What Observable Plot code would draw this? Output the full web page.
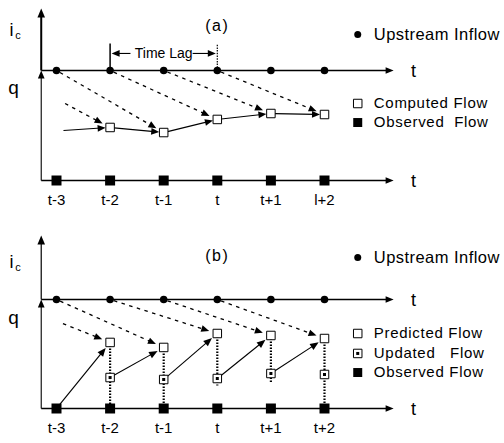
<!DOCTYPE html>
<html><head><meta charset="utf-8">
<script src="https://cdn.jsdelivr.net/npm/d3@7"></script>
<script src="https://cdn.jsdelivr.net/npm/@observablehq/plot@0.6"></script>
<style>
body{margin:0;background:#fff}
#chart svg{display:block;background:#fff}
</style>
</head><body><div id="chart"></div>
<script>
// ---------- data ----------
const times = [-3, -2, -1, 0, 1, 2];                 // t-3 .. t+2
const timeLabelsA = ["t-3", "t-2", "t-1", "t", "t+1", "l+2"];
const timeLabelsB = ["t-3", "t-2", "t-1", "t", "t+1", "t+2"];
const upstreamLevel = 10;   // level of the upstream-inflow (q) line
const observedLevel = 0;    // level of the observed-flow line
const lagSteps = 2;         // time lag in steps
const computedA  = [null, 4.82, 4.36, 5.55, 6.09, 6.00];
const leadInA    = {x: -2.87, y: 4.55};               // start of the incoming computed line
const predictedB = [null, 6.06, 5.60, 6.88, 6.70, 6.42];
const updatedB   = [null, 2.84, 2.66, 2.75, 3.21, 3.12];
const dottedEndB = [null, 0, 0, 2.1, 2.4, 0];
const legendA = [
  {label: "Upstream Inflow", kind: "upstream", y: 13.27, big: true},
  {label: "Computed Flow", kind: "open", y: 7.0},
  {label: "Observed\u00a0 Flow", kind: "observed", y: 5.27}
];
const legendB = [
  {label: "Upstream Inflow", kind: "upstream", y: 13.85, big: true},
  {label: "Predicted Flow", kind: "open", y: 6.88},
  {label: "Updated\u00a0\u00a0 Flow", kind: "updated", y: 5.05},
  {label: "Observed Flow", kind: "observed", y: 3.30}
];

// ---------- layout ----------
const X_DOMAIN = [-3, 2], X_RANGE = [56, 324];
const Y_DOMAIN = [0, 10];
const AXIS_X = -3.285, ARROW_END = 3.29, T_LABEL_X = 3.66;
const LEG_SYM_X = 2.62, LEG_TEXT_X = 2.92;
const FONT = "'Liberation Sans', Arial, Helvetica, sans-serif";

const headSym = {
  draw(ctx, size) {
    const L = Math.sqrt(size), w = L * 0.42;
    ctx.moveTo(0, 0); ctx.lineTo(w, L); ctx.lineTo(-w, L); ctx.closePath();
  }
};

function arrowMarks(list, sx, sy, linkOpts, headLen = 8) {
  const lines = [], heads = [];
  for (const a of list) {
    const x1 = sx(a.x1), y1 = sy(a.y1), x2 = sx(a.x2), y2 = sy(a.y2);
    const dx = x2 - x1, dy = y2 - y1, L = Math.hypot(dx, dy), ux = dx / L, uy = dy / L;
    const f = a.startFrac ?? 0, is = a.insetStart ?? 0, ie = a.inset ?? 0;
    const s = [x1 + dx * f + ux * is, y1 + dy * f + uy * is];
    const tip = [x2 - ux * ie, y2 - uy * ie];
    const le = a.noHead ? tip : [tip[0] - ux * headLen * 0.6, tip[1] - uy * headLen * 0.6];
    if (!a.headOnly) lines.push({x1: sx.invert(s[0]), y1: sy.invert(s[1]), x2: sx.invert(le[0]), y2: sy.invert(le[1])});
    if (!a.noHead) heads.push({x: sx.invert(tip[0]), y: sy.invert(tip[1]), rot: Math.atan2(ux, -uy) * 180 / Math.PI});
  }
  return [
    Plot.link(lines, {x1: "x1", y1: "y1", x2: "x2", y2: "y2", stroke: "black", ...linkOpts}),
    Plot.dot(heads, {x: "x", y: "y", rotate: "rot", symbol: headSym, r: headLen / Math.sqrt(Math.PI), fill: "black", stroke: "none"})
  ];
}

function panel({height, yRange, labels, flows, partial, legend, topY, ticksY, title, titleY, iY, qY, thickTop, extra}) {
  const sx = d3.scaleLinear(X_DOMAIN, X_RANGE), sy = d3.scaleLinear(Y_DOMAIN, yRange);
  const pts = times.map((t, i) => ({t, v: flows[i]})).filter(d => d.v != null);
  const marks = [];
  // axes
  marks.push(...arrowMarks([{x1: AXIS_X, y1: upstreamLevel, x2: AXIS_X, y2: topY}], sx, sy, {strokeWidth: thickTop ? 2 : 1.2}, 9));
  marks.push(...arrowMarks([{x1: AXIS_X, y1: observedLevel, x2: AXIS_X, y2: upstreamLevel}], sx, sy, {strokeWidth: 1.1}, 8));
  marks.push(...arrowMarks([
    {x1: AXIS_X, y1: upstreamLevel, x2: ARROW_END, y2: upstreamLevel},
    {x1: AXIS_X, y1: observedLevel, x2: ARROW_END, y2: observedLevel}
  ], sx, sy, {strokeWidth: 1.3}, 8));
  // dashed lag arrows upstream(t) -> flow(t+lag)
  const dashed = [];
  for (let i = 0; i + lagSteps < times.length; i++) {
    if (flows[i + lagSteps] == null) continue;
    dashed.push({x1: times[i], y1: upstreamLevel, x2: times[i + lagSteps], y2: flows[i + lagSteps], inset: 8.5, insetStart: 4});
  }
  dashed.push({x1: times[1] - lagSteps, y1: upstreamLevel, x2: times[1], y2: flows[1], startFrac: partial, inset: 8.5});
  marks.push(...arrowMarks(dashed, sx, sy, {strokeWidth: 1.3, strokeDasharray: "3.5,4.5"}, 8));
  if (extra) marks.push(...extra(sx, sy, pts));
  // upstream dots and observed squares
  marks.push(Plot.dot(times, {x: d => d, y: upstreamLevel, r: 3.8, fill: "black", stroke: "none"}));
  marks.push(Plot.dot(times, {x: d => d, y: observedLevel, symbol: "square", r: 10 / Math.sqrt(Math.PI), fill: "black", stroke: "none"}));
  // flow squares
  marks.push(Plot.dot(pts, {x: "t", y: "v", symbol: "square", r: 8.5 / Math.sqrt(Math.PI), fill: "white", stroke: "black", strokeWidth: 1}));
  // labels
  marks.push(Plot.text(times, {x: d => d, y: ticksY, text: (d, i) => labels[i], fontSize: 15, fontFamily: FONT, fill: "black"}));
  marks.push(Plot.text(["t", "t"], {x: T_LABEL_X, y: (d, i) => i ? observedLevel : upstreamLevel, text: d => d, fontSize: 18, fontFamily: FONT, fill: "black", dy: 1}));
  marks.push(Plot.text([title], {x: 0, y: titleY, text: d => d, fontSize: 16, fontFamily: FONT, fill: "black"}));
  marks.push(Plot.text(["i"], {x: -3.84, y: iY, text: d => d, fontSize: 18, fontFamily: FONT, fill: "black"}));
  marks.push(Plot.text(["c"], {x: -3.72, y: iY - 0.55, text: d => d, fontSize: 11, fontFamily: FONT, fill: "black"}));
  marks.push(Plot.text(["q"], {x: -3.80, y: qY, text: d => d, fontSize: 19, fontFamily: FONT, fill: "black"}));
  // legend
  for (const L of legend) {
    if (L.kind === "upstream") marks.push(Plot.dot([L], {x: LEG_SYM_X, y: "y", r: 3.5, fill: "black", stroke: "none"}));
    if (L.kind === "observed") marks.push(Plot.dot([L], {x: LEG_SYM_X, y: "y", symbol: "square", r: 9 / Math.sqrt(Math.PI), fill: "black", stroke: "none"}));
    if (L.kind === "open" || L.kind === "updated") marks.push(Plot.dot([L], {x: LEG_SYM_X, y: "y", symbol: "square", r: 8.5 / Math.sqrt(Math.PI), fill: "white", stroke: "black", strokeWidth: 1}));
    if (L.kind === "updated") marks.push(Plot.dot([L], {x: LEG_SYM_X, y: "y", symbol: "square", r: 3 / Math.sqrt(Math.PI), fill: "black", stroke: "none"}));
  }
  marks.push(Plot.text(legend, {x: LEG_TEXT_X, y: "y", text: "label", textAnchor: "start", fontSize: d => d.big ? 16.5 : 15, fontFamily: FONT, fill: "black"}));
  const svg = Plot.plot({
    width: 504, height, margin: 0,
    x: {domain: X_DOMAIN, range: X_RANGE, axis: null},
    y: {domain: Y_DOMAIN, range: yRange, axis: null},
    style: {background: "white", overflow: "visible"},
    marks
  });
  const legendTexts = new Map(legend.map(d => [d.label, d.big ? "0.45px" : "0.7px"]));
  d3.select(svg).selectAll("text").each(function () {
    const s = this.textContent;
    if (legendTexts.has(s)) this.style.letterSpacing = legendTexts.get(s);
    else if (s === title) this.style.letterSpacing = "1.5px";
  });
  return svg;
}

const root = document.getElementById("chart");

// Panel (a)
root.appendChild(panel({
  height: 220, yRange: [180, 70], labels: timeLabelsA, flows: computedA, partial: 0.58,
  legend: legendA, topY: 15.64, ticksY: -1.82, title: "(a)", titleY: 14.1, iY: 13.7, qY: 8.45, thickTop: true,
  extra: (sx, sy, pts) => {
    const m = [];
    const solid = [{x1: leadInA.x, y1: leadInA.y, x2: pts[0].t, y2: pts[0].v, inset: 4.5}];
    for (let i = 0; i + 1 < pts.length; i++) solid.push({x1: pts[i].t, y1: pts[i].v, x2: pts[i + 1].t, y2: pts[i + 1].v, inset: 4.5, insetStart: 4});
    m.push(...arrowMarks(solid, sx, sy, {strokeWidth: 1.1}, 8));
    // time lag marker
    const lagFrom = times[1], lagTo = times[1 + lagSteps], lagTop = 12.45, lagY = 11.55;
    m.push(Plot.link([0], {x1: lagFrom, x2: lagFrom, y1: upstreamLevel, y2: lagTop, stroke: "black", strokeWidth: 1.5}));
    m.push(Plot.link([0], {x1: lagTo, x2: lagTo, y1: upstreamLevel, y2: lagTop, stroke: "black", strokeWidth: 1.2, strokeDasharray: "1.5,1.2"}));
    m.push(...arrowMarks([
      {x1: -1.62, y1: lagY, x2: lagFrom, y2: lagY, inset: 1.5},
      {x1: -0.46, y1: lagY, x2: lagTo, y2: lagY, inset: 1.5}
    ], sx, sy, {strokeWidth: 1.1}, 8));
    m.push(Plot.text(["Time Lag"], {x: (lagFrom + lagTo) / 2, y: lagY, text: d => d, fontSize: 14, fontFamily: FONT, fill: "black"}));
    return m;
  }
}));

// Panel (b)
root.appendChild(panel({
  height: 223, yRange: [188, 79], labels: timeLabelsB, flows: predictedB, partial: 0.56,
  legend: legendB, topY: 15.87, ticksY: -1.83, title: "(b)", titleY: 14.0, iY: 13.45, qY: 8.3, thickTop: false,
  extra: (sx, sy, pts) => {
    const m = [];
    const dotted = times.map((t, i) => ({t, y1: predictedB[i], y2: dottedEndB[i]})).filter(d => d.y1 != null);
    m.push(Plot.link(dotted, {x1: "t", x2: "t", y1: "y1", y2: "y2", stroke: "black", strokeWidth: 2.2, strokeDasharray: "1.6,1.4"}));
    const solid = [{x1: times[0], y1: observedLevel, x2: times[1], y2: predictedB[1], inset: 7, insetStart: 4}];
    for (let i = 1; i + 1 < times.length; i++) solid.push({x1: times[i], y1: updatedB[i], x2: times[i + 1], y2: predictedB[i + 1], inset: 7, insetStart: 4.5});
    m.push(...arrowMarks(solid, sx, sy, {strokeWidth: 1.1}, 8.5));
    const upd = times.map((t, i) => ({t, v: updatedB[i]})).filter(d => d.v != null);
    m.push(Plot.dot(upd, {x: "t", y: "v", symbol: "square", r: 8.5 / Math.sqrt(Math.PI), fill: "white", stroke: "black", strokeWidth: 1}));
    m.push(Plot.dot(upd, {x: "t", y: "v", symbol: "square", r: 3 / Math.sqrt(Math.PI), fill: "black", stroke: "none"}));
    return m;
  }
}));
</script>
</body></html>
